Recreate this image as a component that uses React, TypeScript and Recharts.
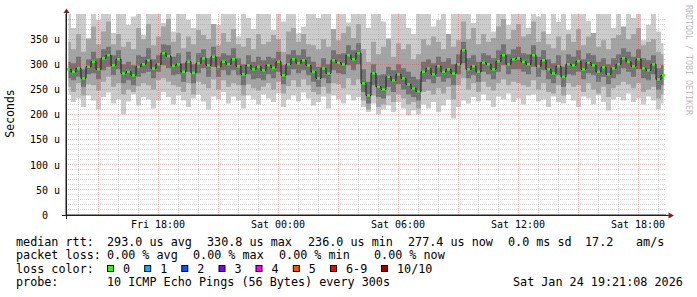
import React from 'react';
import { ComposedChart, Area, Line, Scatter, XAxis, YAxis, ReferenceLine } from 'recharts';

// median RTT (microseconds), one value per 15 minutes starting Fri 13:24
const median = [
  290, 285, 292, 272, 295, 305, 290, 312, 318, 298,
  310, 282, 285, 278, 295, 300, 308, 292, 300, 322,
  316, 297, 300, 285, 305, 283, 302, 312, 298, 315,
  295, 305, 300, 310, 296, 280, 298, 290, 295, 288,
  298, 293, 305, 278, 300, 310, 302, 308, 298, 285,
  272, 292, 282, 308, 303, 300, 318, 310, 322, 262,
  238, 282, 255, 250, 275, 268, 280, 272, 260, 252,
  246, 285, 292, 280, 296, 285, 290, 282, 300, 328,
  290, 296, 285, 303, 300, 290, 306, 318, 300, 310,
  312, 305, 300, 318, 296, 308, 290, 282, 296, 275,
  300, 298, 306, 290, 303, 298, 285, 294, 280, 292,
  300, 312, 305, 296, 310, 292, 288, 300, 270, 278,
];
// outer smoke (slowest / fastest ping)
const hi1 = [
  400, 372, 400, 400, 352, 400, 388, 400, 400, 362,
  400, 400, 378, 395, 400, 358, 400, 400, 400, 382,
  400, 365, 400, 400, 388, 372, 400, 400, 400, 362,
  378, 400, 400, 400, 355, 400, 392, 370, 400, 400,
  400, 368, 400, 385, 400, 400, 362, 375, 400, 400,
  392, 400, 400, 360, 400, 400, 383, 400, 400, 400,
  372, 400, 400, 385, 352, 400, 400, 400, 372, 360,
  400, 400, 400, 375, 388, 400, 358, 400, 400, 400,
  400, 382, 400, 400, 400, 365, 400, 400, 378, 400,
  400, 400, 372, 400, 395, 400, 360, 400, 384, 400,
  368, 400, 400, 400, 386, 355, 400, 400, 400, 372,
  400, 362, 400, 392, 400, 348, 378, 400, 365, 342,
];
const lo1 = [
  240, 225, 232, 215, 238, 228, 210, 235, 244, 222,
  230, 200, 226, 240, 218, 235, 230, 212, 228, 245,
  235, 220, 238, 228, 215, 232, 240, 226, 210, 236,
  230, 245, 222, 236, 228, 212, 238, 230, 220, 240,
  232, 225, 242, 215, 230, 238, 226, 244, 232, 218,
  225, 236, 212, 238, 230, 222, 240, 228, 235, 215,
  205, 222, 200, 210, 218, 205, 225, 212, 198, 208,
  200, 220, 212, 225, 205, 218, 230, 192, 215, 228,
  222, 235, 226, 240, 228, 215, 236, 230, 242, 225,
  232, 220, 238, 240, 226, 230, 215, 236, 225, 222,
  240, 228, 215, 236, 232, 220, 238, 225, 208, 230,
  235, 228, 242, 225, 232, 220, 236, 228, 210, 222,
];
// middle smoke
const hi2 = [
  345, 330, 360, 325, 350, 375, 340, 365, 385, 340,
  360, 335, 345, 330, 372, 350, 380, 338, 355, 375,
  390, 345, 362, 332, 355, 340, 368, 358, 350, 380,
  338, 362, 345, 370, 340, 335, 352, 330, 360, 340,
  345, 358, 350, 325, 365, 372, 345, 360, 340, 338,
  330, 350, 335, 370, 348, 362, 375, 352, 380, 330,
  305, 345, 320, 335, 350, 315, 342, 330, 340, 310,
  320, 350, 338, 355, 345, 330, 360, 335, 348, 385,
  350, 372, 340, 360, 345, 352, 375, 390, 350, 368,
  380, 355, 360, 385, 345, 365, 340, 332, 355, 328,
  360, 345, 370, 338, 355, 362, 335, 348, 330, 352,
  358, 375, 350, 360, 372, 338, 345, 350, 325, 320,
];
const lo2 = [
  255, 245, 262, 238, 260, 258, 248, 265, 275, 255,
  262, 240, 250, 245, 256, 262, 258, 250, 268, 272,
  265, 258, 255, 245, 262, 240, 265, 260, 252, 270,
  250, 268, 255, 262, 258, 238, 260, 252, 248, 255,
  262, 250, 265, 242, 256, 268, 255, 270, 258, 245,
  240, 255, 242, 262, 260, 252, 272, 258, 270, 228,
  210, 238, 215, 220, 238, 225, 240, 232, 220, 225,
  212, 245, 248, 240, 252, 242, 255, 230, 258, 272,
  250, 262, 245, 265, 255, 248, 262, 270, 258, 265,
  262, 258, 255, 268, 250, 262, 245, 242, 258, 238,
  262, 255, 258, 245, 262, 250, 242, 255, 235, 252,
  258, 265, 260, 252, 262, 245, 250, 255, 232, 240,
];
// inner smoke
const hi3 = [
  305, 302, 315, 290, 310, 325, 312, 330, 335, 318,
  328, 300, 305, 298, 318, 315, 332, 310, 318, 340,
  338, 315, 322, 302, 325, 300, 322, 330, 312, 335,
  315, 322, 318, 332, 312, 300, 318, 305, 315, 308,
  315, 312, 325, 298, 320, 328, 318, 330, 315, 305,
  295, 312, 300, 328, 320, 322, 338, 328, 342, 290,
  265, 300, 278, 280, 295, 288, 300, 292, 285, 275,
  270, 305, 310, 302, 315, 305, 312, 300, 320, 345,
  312, 318, 305, 322, 318, 312, 328, 340, 320, 330,
  335, 322, 320, 338, 315, 328, 310, 302, 318, 295,
  320, 315, 328, 310, 322, 318, 305, 312, 300, 312,
  320, 332, 325, 315, 330, 312, 308, 318, 292, 298,
];
const lo3 = [
  272, 268, 275, 255, 280, 282, 270, 288, 295, 278,
  290, 262, 268, 258, 275, 282, 285, 272, 285, 298,
  292, 278, 280, 265, 285, 262, 282, 292, 275, 295,
  275, 288, 278, 288, 278, 258, 280, 270, 272, 268,
  280, 272, 285, 260, 278, 290, 282, 288, 278, 265,
  255, 272, 262, 288, 282, 280, 298, 288, 300, 245,
  222, 258, 235, 232, 255, 245, 260, 250, 240, 235,
  228, 265, 270, 262, 275, 265, 272, 258, 280, 302,
  272, 278, 265, 285, 280, 270, 285, 298, 280, 290,
  290, 285, 280, 295, 275, 288, 270, 262, 278, 255,
  280, 278, 285, 270, 282, 278, 265, 275, 260, 272,
  280, 292, 285, 275, 290, 272, 268, 280, 250, 258,
];

const STEP_HOURS = 0.25;
const xTickHours = [4.6, 10.6, 16.6, 22.6, 28.6];
const xTickLabels = ['Fri 18:00', 'Sat 00:00', 'Sat 06:00', 'Sat 12:00', 'Sat 18:00'];
const yTicks = [0, 50, 100, 150, 200, 250, 300, 350];

const data = median.map((m, i) => ({
  t: i * STEP_HOURS + STEP_HOURS / 2,
  m,
  r1: [lo1[i], hi1[i]],
  r2: [lo2[i], hi2[i]],
  r3: [lo3[i], hi3[i]],
}));

const minorHours: number[] = [];
const majorHours: number[] = [];
for (let k = 0; k < 30; k += 1) {
  const h = 0.6 + k;
  if (k % 3 === 1) majorHours.push(h);
  else minorHours.push(h);
}
const minorY: number[] = [];
const majorY: number[] = [];
for (let v = 10; v < 400; v += 10) {
  if (v % 50 === 0) majorY.push(v);
  else minorY.push(v);
}

const MONO = '"DejaVu Sans Mono", monospace';

const YTick = (props: any) => {
  const { y, payload } = props;
  const v = payload.value;
  return (
    <text x={v === 0 ? 48 : 60} y={y} dy={3.8} textAnchor="end" fontFamily={MONO} fontSize={10} fill="#000">
      {v === 0 ? '0' : `${v} u`}
    </text>
  );
};

const XTick = (props: any) => {
  const { x, payload } = props;
  const idx = xTickHours.indexOf(payload.value);
  return (
    <text x={x} y={228} textAnchor="middle" fontFamily={MONO} fontSize={10} fill="#000">
      {xTickLabels[idx]}
    </text>
  );
};

const MedianDot = (props: any) => {
  const { cx, cy } = props;
  if (cx == null || cy == null) return null;
  return <rect x={cx - 1.5} y={cy - 1.2} width={3} height={2.5} fill="#26ff00" />;
};

const lossColors = [
  { label: '0', color: '#26ff00', x: 107.5 },
  { label: '1', color: '#00b8ff', x: 144.7 },
  { label: '2', color: '#0059ff', x: 181.8 },
  { label: '3', color: '#7e00ff', x: 219 },
  { label: '4', color: '#ff00ff', x: 256 },
  { label: '5', color: '#ff5500', x: 293.3 },
  { label: '6-9', color: '#ff0000', x: 330.5 },
  { label: '10/10', color: '#a10000', x: 381.5 },
];

const legendLines: { y: number; items: [number, string][] }[] = [
  {
    y: 245.5,
    items: [
      [16, 'median rtt:'],
      [107, '293.0 us avg'],
      [207, '330.8 us max'],
      [308, '236.0 us min'],
      [408, '277.4 us now'],
      [508, '0.0 ms sd'],
      [585, '17.2'],
      [636, 'am/s'],
    ],
  },
  {
    y: 259,
    items: [
      [16, 'packet loss:'],
      [107, '0.00 % avg'],
      [193, '0.00 % max'],
      [279, '0.00 % min'],
      [374, '0.00 % now'],
    ],
  },
  { y: 272.5, items: [[16, 'loss color:']] },
  {
    y: 286,
    items: [
      [16, 'probe:'],
      [107, '10 ICMP Echo Pings (56 Bytes) every 300s'],
      [513, 'Sat Jan 24 19:21:08 2026'],
    ],
  },
];

const gridMinor = 'rgba(150,150,150,0.4)';
const gridMajor = 'rgba(222,79,79,0.42)';

export default function App() {
  return (
    <div style={{ position: 'absolute', left: 0, top: 0, width: 697, height: 297, background: '#fff', overflow: 'hidden' }}>
      <ComposedChart
        width={697}
        height={297}
        data={data}
        margin={{ top: 14, left: 0, right: 31, bottom: 62 }}
      >
        <XAxis
          dataKey="t"
          type="number"
          domain={[0, 30]}
          ticks={xTickHours}
          tick={<XTick />}
          tickLine={false}
          axisLine={{ stroke: '#1f1f1f' }}
          height={20}
          interval={0}
          allowDataOverflow
        />
        <YAxis
          type="number"
          domain={[0, 400]}
          ticks={yTicks}
          tick={<YTick />}
          tickLine={false}
          axisLine={{ stroke: '#1f1f1f' }}
          width={66}
          interval={0}
          allowDataOverflow
        />
        <Area dataKey="r1" type="step" fill="#cccccc" fillOpacity={1} stroke="none" isAnimationActive={false} activeDot={false} />
        <Area dataKey="r2" type="step" fill="#a4a4a4" fillOpacity={1} stroke="none" isAnimationActive={false} activeDot={false} />
        <Area dataKey="r3" type="step" fill="#727272" fillOpacity={1} stroke="none" isAnimationActive={false} activeDot={false} />
        {minorY.map((v) => (
          <ReferenceLine key={'my' + v} y={v} stroke={gridMinor} strokeDasharray="1 1" shapeRendering="crispEdges" />
        ))}
        {minorHours.map((h) => (
          <ReferenceLine key={'mx' + h} x={h} stroke={gridMinor} strokeDasharray="1 1" shapeRendering="crispEdges" />
        ))}
        {majorY.map((v) => (
          <ReferenceLine key={'My' + v} y={v} stroke={gridMajor} strokeDasharray="1 1" shapeRendering="crispEdges" />
        ))}
        {majorHours.map((h) => (
          <ReferenceLine key={'Mx' + h} x={h} stroke={gridMajor} strokeDasharray="1 1" shapeRendering="crispEdges" />
        ))}
        <Line dataKey="m" type="step" stroke="#1e1e1e" strokeWidth={1} dot={false} activeDot={false} isAnimationActive={false} />
        <Scatter dataKey="m" shape={<MedianDot />} isAnimationActive={false} />
      </ComposedChart>
      <svg width={697} height={297} style={{ position: 'absolute', left: 0, top: 0, pointerEvents: 'none' }}>
        <line x1={62} y1={215.5} x2={669} y2={215.5} stroke="#1f1f1f" strokeWidth={1} />
        <line x1={66.5} y1={219} x2={66.5} y2={12} stroke="#1f1f1f" strokeWidth={1} />
        <polygon points="66.5,8.5 63.5,13 69.5,13" fill="#801f1f" />
        <polygon points="674,215.5 668.5,212.5 668.5,218.5" fill="#801f1f" />
        <text transform="translate(14,113.5) rotate(-90)" textAnchor="middle" fontFamily={MONO} fontSize={11.5} fill="#000">
          Seconds
        </text>
        <text transform="translate(686,5) rotate(90)" fontFamily={MONO} fontSize={8.3} fill="#bdbdbd">
          RRDTOOL / TOBI OETIKER
        </text>
        {legendLines.map((ln, li) =>
          ln.items.map(([x, s], k) => (
            <text key={li + '-' + k} x={x} y={ln.y} fontFamily={MONO} fontSize={11.75} fill="#000" style={{ whiteSpace: 'pre' }}>
              {s}
            </text>
          ))
        )}
        {lossColors.map((lc) => (
          <g key={lc.label}>
            <rect x={lc.x} y={265.5} width={6} height={6} fill={lc.color} stroke="#000" strokeWidth={1} />
            <text x={lc.x + 15.5} y={272.5} fontFamily={MONO} fontSize={11.75} fill="#000">
              {lc.label}
            </text>
          </g>
        ))}
      </svg>
    </div>
  );
}
